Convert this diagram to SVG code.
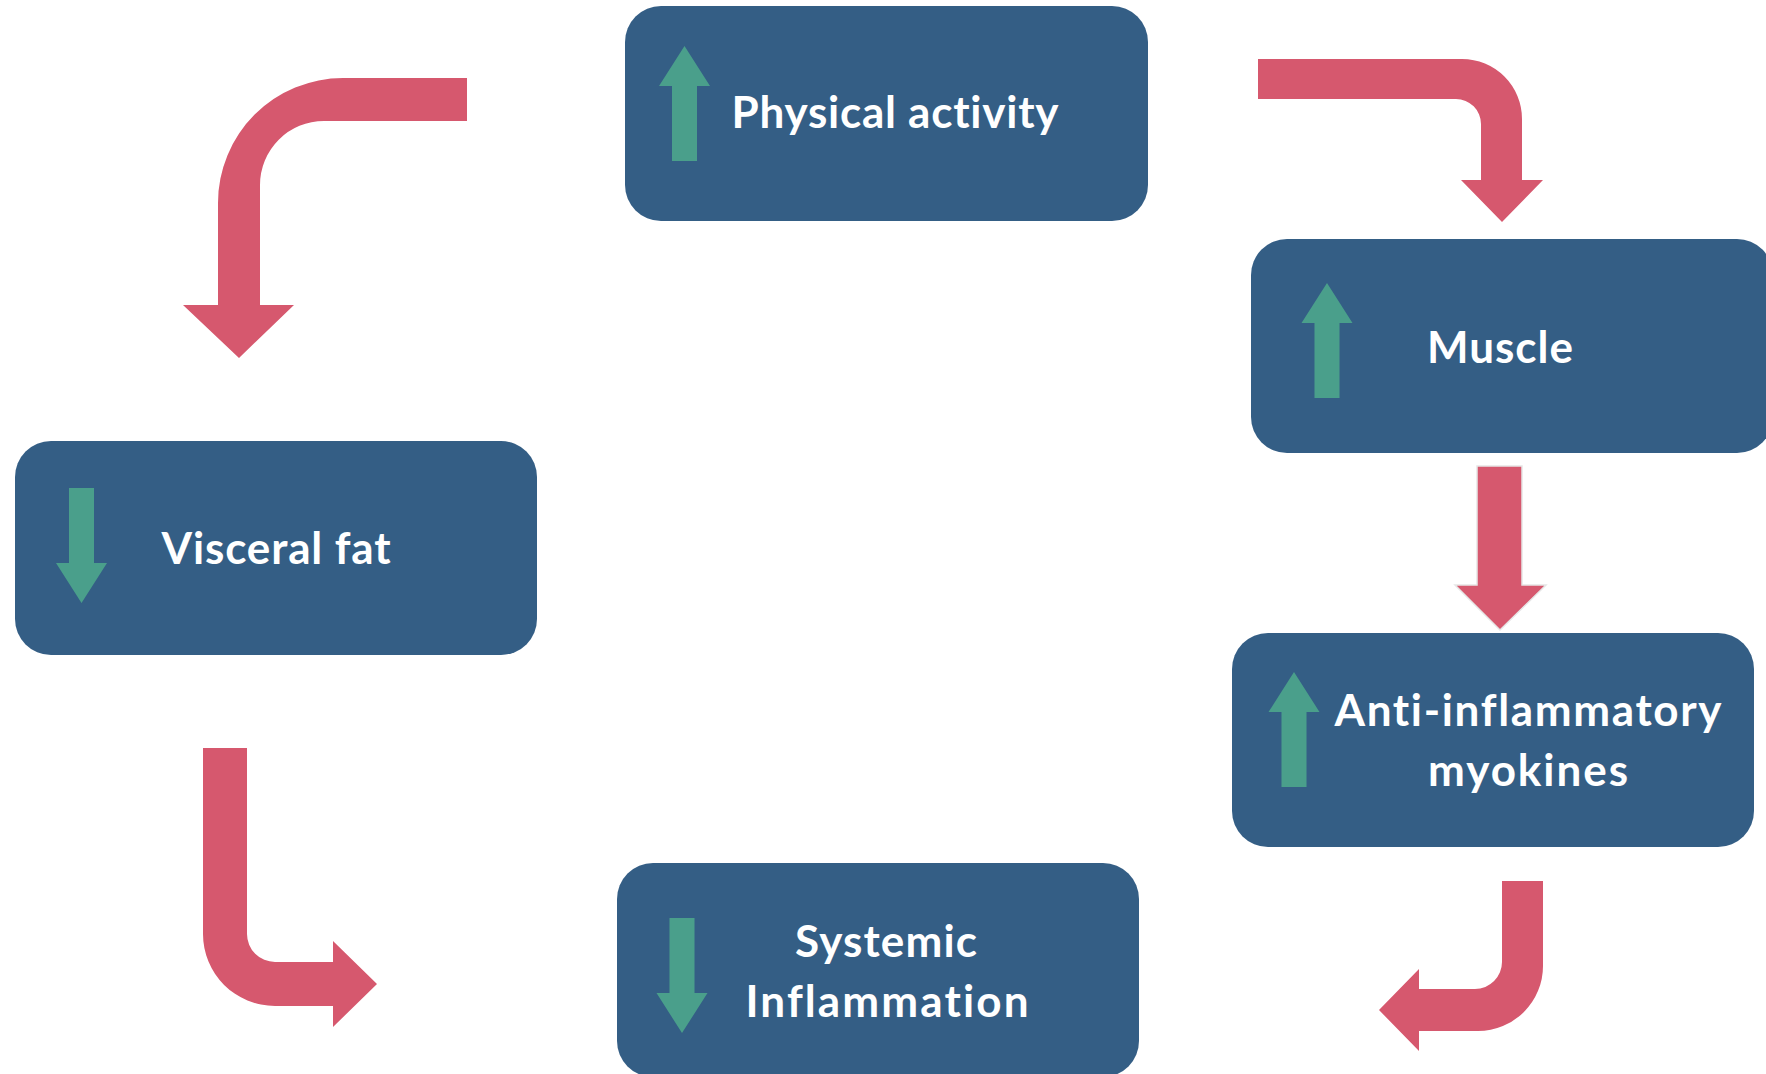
<svg xmlns="http://www.w3.org/2000/svg" width="1766" height="1074" viewBox="0 0 1766 1074">
  <style>
    .box { fill: #345e85; }
    .conn { fill: #d6586e; }
    .ind { fill: #4a9f8b; }
    .lbl { fill: #ffffff; font-family: "Lato", "Open Sans", sans-serif; font-weight: 700; font-size: 44px; text-anchor: middle; font-variant-ligatures: none; font-feature-settings: "liga" 0, "clig" 0; }
  </style>
  <defs>
    <path id="upArrow" d="M0 0 L25.5 40 L12.5 40 L12.5 115 L-12.5 115 L-12.5 40 L-25.5 40 Z"/>
    <path id="downArrow" d="M0 0 L25.5 -40 L12.5 -40 L12.5 -115 L-12.5 -115 L-12.5 -40 L-25.5 -40 Z"/>
  </defs>
  <rect width="1766" height="1074" fill="#ffffff"/>

  <g id="connectors">
    <path class="conn" d="M467 78 L343 78 A125 125 0 0 0 218 203 L218 305 L183 305 L239 358 L294 305 L260 305 L260 185 A64 64 0 0 1 324 121 L467 121 Z"/>
    <path class="conn" d="M1258 59 L1462 59 A60 60 0 0 1 1522 119 L1522 180 L1543 180 L1502 222 L1461 180 L1481 180 L1481 124 A25 25 0 0 0 1456 99 L1258 99 Z"/>
    <path class="conn" d="M1477 466 L1522 466 L1522 585 L1546 585 L1500 630 L1455 585 L1477 585 Z" stroke="#e6e6e6" stroke-width="1.5"/>
    <path class="conn" d="M1502 881 L1543 881 L1543 966 A65 65 0 0 1 1478 1031 L1419 1031 L1419 1051 L1379 1010 L1419 969 L1419 989 L1475 989 A27 27 0 0 0 1502 962 Z"/>
    <path class="conn" d="M203 748 L247 748 L247 934 A28 28 0 0 0 275 962 L333 962 L333 941 L377 984 L333 1027 L333 1006 L275 1006 A72 72 0 0 1 203 934 Z"/>
  </g>

  <g id="node-physical-activity">
    <rect class="box" x="625" y="6" width="523" height="215" rx="36" ry="36"/>
    <use href="#upArrow" class="ind" x="684.5" y="46"/>
    <text class="lbl" x="895" y="128" textLength="327">Physical activity</text>
  </g>

  <g id="node-muscle">
    <rect class="box" x="1251" y="239" width="522" height="214" rx="36" ry="36"/>
    <use href="#upArrow" class="ind" x="1327" y="283"/>
    <text class="lbl" x="1500" y="363" textLength="146">Muscle</text>
  </g>

  <g id="node-anti-inflammatory">
    <rect class="box" x="1232" y="633" width="522" height="214" rx="36" ry="36"/>
    <use href="#upArrow" class="ind" x="1294" y="672"/>
    <text class="lbl" x="1528" y="726" textLength="387">Anti-inflammatory</text>
    <text class="lbl" x="1528" y="786" textLength="200">myokines</text>
  </g>

  <g id="node-visceral-fat">
    <rect class="box" x="15" y="441" width="522" height="214" rx="36" ry="36"/>
    <use href="#downArrow" class="ind" x="81.5" y="603"/>
    <text class="lbl" x="276" y="564" textLength="229">Visceral fat</text>
  </g>

  <g id="node-systemic-inflammation">
    <rect class="box" x="617" y="863" width="522" height="214" rx="36" ry="36"/>
    <use href="#downArrow" class="ind" x="682" y="1033"/>
    <text class="lbl" x="886" y="957" textLength="182">Systemic</text>
    <text class="lbl" x="887" y="1017" textLength="283">Inflammation</text>
  </g>
</svg>
